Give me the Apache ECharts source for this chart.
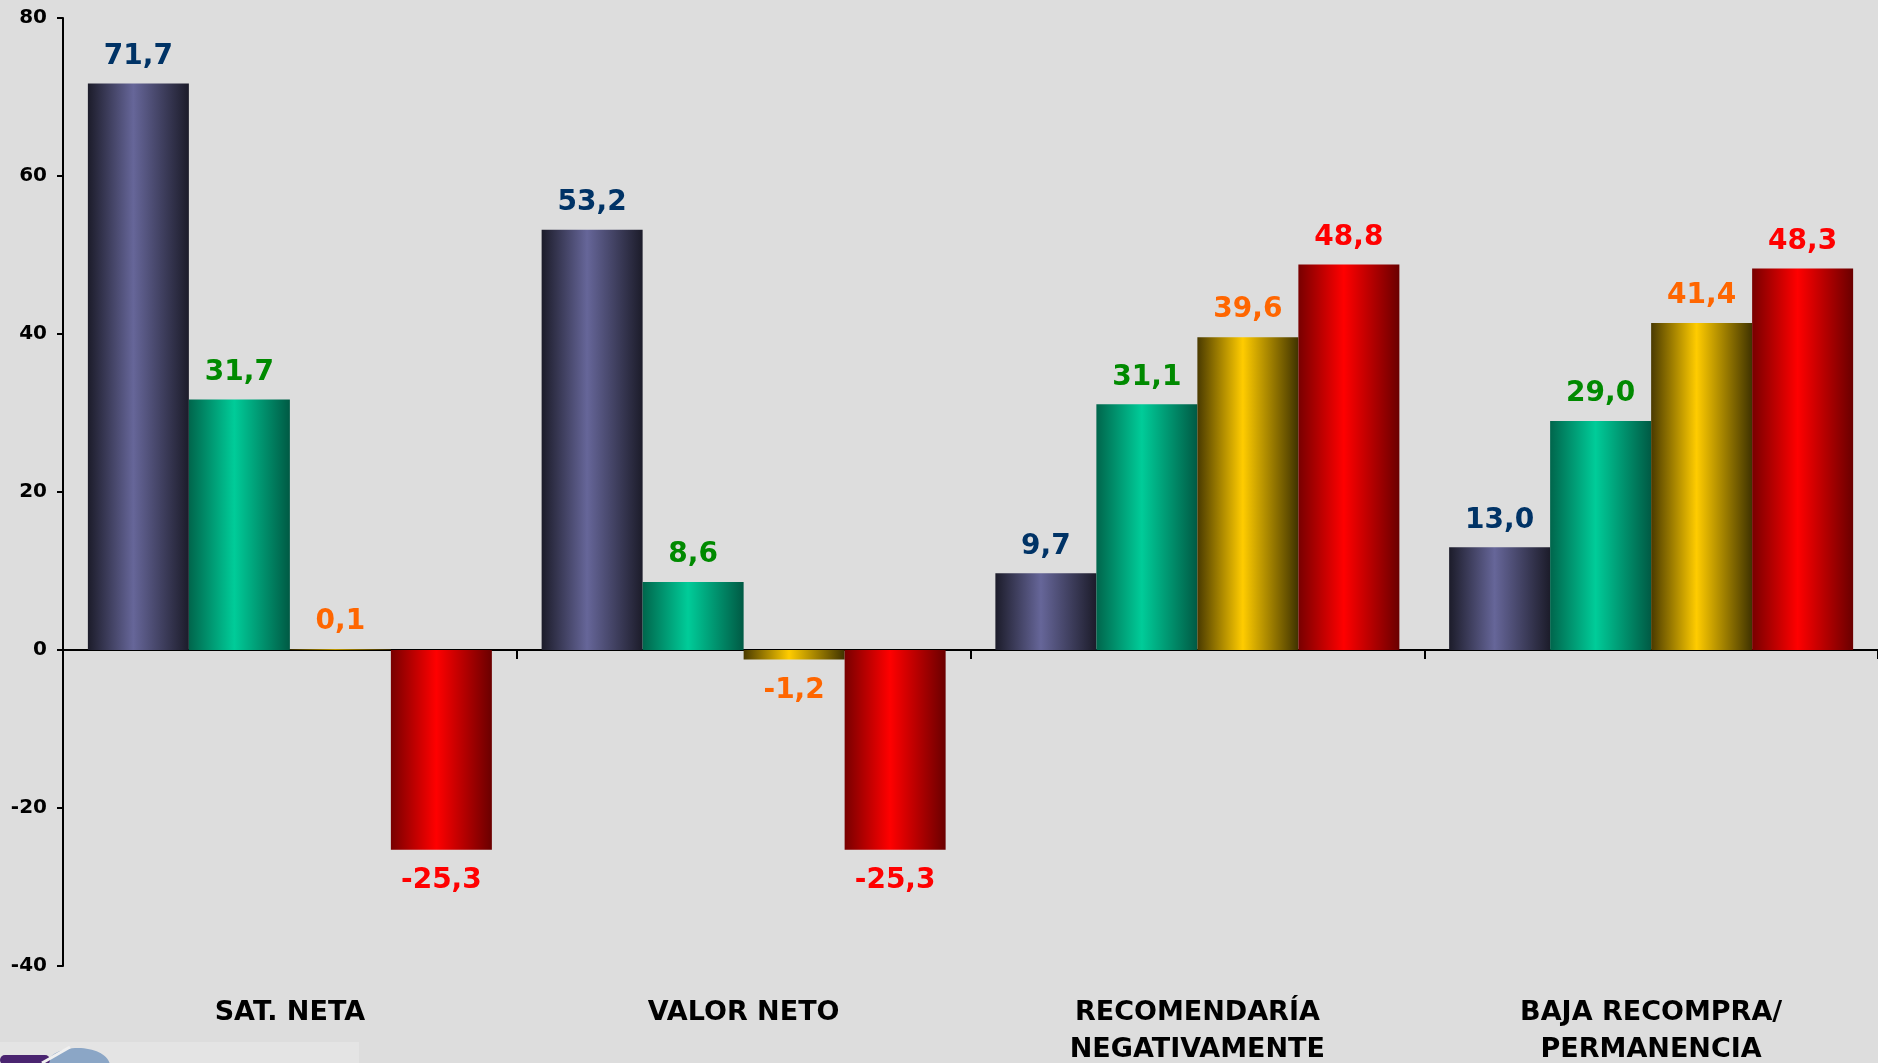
<!DOCTYPE html>
<html>
<head>
<meta charset="utf-8">
<script src="https://cdn.jsdelivr.net/npm/echarts@6/dist/echarts.min.js"></script>
<style>
html,body{margin:0;padding:0;background:#dddddd;}
#chart{width:1878px;height:1063px;}
</style>
</head>
<body>
<div id="chart"></div>
<script>
var categories = ['SAT. NETA', 'VALOR NETO', 'RECOMENDARÍA\nNEGATIVAMENTE', 'BAJA RECOMPRA/\nPERMANENCIA'];
var seriesNavy = [71.7, 53.2, 9.7, 13.0];
var seriesTeal = [31.7, 8.6, 31.1, 29.0];
var seriesGold = [0.1, -1.2, 39.6, 41.4];
var seriesRed = [-25.3, -25.3, 48.8, 48.3];
var yTicks = {min: -40, max: 80, interval: 20};

function grad(dark1, light, dark2) {
  return new echarts.graphic.LinearGradient(0, 0, 1, 0, [
    {offset: 0, color: dark1},
    {offset: 0.45, color: light},
    {offset: 1, color: dark2}
  ]);
}

function fmt(v) { return v.toFixed(1).replace('.', ','); }

function makeSeries(name, values, fill, labelColor) {
  return {
    name: name,
    type: 'bar',
    xAxisIndex: 0,
    barWidth: 101,
    barGap: '0%',
    itemStyle: {color: fill},
    data: values.map(function (v) {
      return {
        value: v,
        label: {
          show: true,
          position: v < 0 ? 'bottom' : 'top',
          distance: v < 0 ? 17 : 13,
          color: labelColor,
          fontFamily: 'DejaVu Sans',
          fontWeight: 'bold',
          fontSize: 28,
          formatter: function (p) { return fmt(p.value); }
        }
      };
    })
  };
}

var chart = echarts.init(document.getElementById('chart'));
chart.setOption({
  backgroundColor: '#dddddd',
  animation: false,
  grid: {left: 63, right: 0, top: 18, bottom: 97, containLabel: false, outerBoundsMode: 'none'},
  xAxis: [{
    type: 'category',
    data: categories,
    axisLine: {onZero: true, lineStyle: {color: '#000', width: 2}},
    axisTick: {show: true, length: 9, lineStyle: {color: '#000', width: 2}},
    axisLabel: {show: false}
  }, {
    type: 'category',
    data: categories,
    position: 'bottom',
    axisLine: {show: false, onZero: false},
    axisTick: {show: false},
    axisLabel: {
      margin: 28,
      color: '#000',
      fontFamily: 'DejaVu Sans',
      fontWeight: 'bold',
      fontSize: 27,
      lineHeight: 37,
      interval: 0,
      hideOverlap: false
    }
  }],
  yAxis: {
    type: 'value',
    min: yTicks.min,
    max: yTicks.max,
    interval: yTicks.interval,
    splitLine: {show: false},
    axisLine: {show: true, lineStyle: {color: '#000', width: 2}},
    axisTick: {show: true, length: 6, lineStyle: {color: '#000', width: 2}},
    axisLabel: {
      margin: 16,
      color: '#000',
      fontFamily: 'DejaVu Sans',
      fontWeight: 'bold',
      fontSize: 20
    }
  },
  series: [
    makeSeries('s1', seriesNavy, grad('#1c1c2a', '#666699', '#1c1c2a'), '#003366'),
    makeSeries('s2', seriesTeal, grad('#00664c', '#00cc99', '#005a44'), '#008a00'),
    makeSeries('s3', seriesGold, grad('#4a3a00', '#ffcc00', '#403300'), '#ff6600'),
    makeSeries('s4', seriesRed, grad('#780000', '#ff0000', '#6a0000'), '#ff0000')
  ],
  graphic: [
    {type: 'rect', left: 0, top: 1042, shape: {width: 359, height: 21}, style: {fill: '#e4e4e4'}, z: -1},
    {type: 'ellipse', shape: {cx: 78, cy: 1066, rx: 32, ry: 18}, style: {fill: '#8ba6c6'}},
    {type: 'rect', shape: {x: 0, y: 1055, width: 50, height: 10, r: 5}, style: {fill: '#4a2470'}},
    {type: 'line', shape: {x1: 42, y1: 1063, x2: 70, y2: 1047}, style: {stroke: '#f0f0f0', lineWidth: 3}}
  ]
});
</script>
</body>
</html>
